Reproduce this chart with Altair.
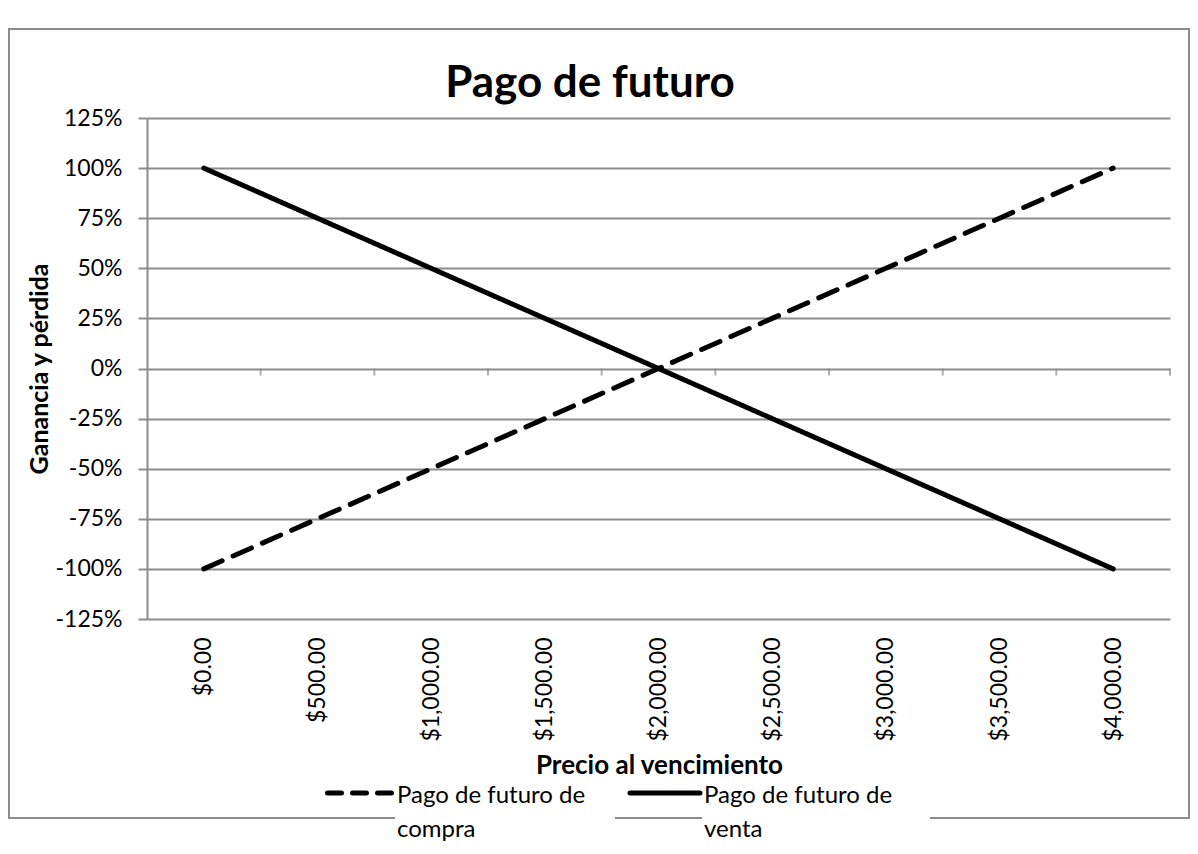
import altair as alt
import pandas as pd

# ---- data ----
precios = [0, 500, 1000, 1500, 2000, 2500, 3000, 3500, 4000]
pago_compra = [-100, -75, -50, -25, 0, 25, 50, 75, 100]
pago_venta = [100, 75, 50, 25, 0, -25, -50, -75, -100]
series = ["Pago de futuro de compra", "Pago de futuro de venta"]
y_ticks = [-125, -100, -75, -50, -25, 0, 25, 50, 75, 100, 125]
titulo = "Pago de futuro"

FONT = "Lato"
GRID = "#8c8c8c"

rows = []
for p, c, v in zip(precios, pago_compra, pago_venta):
    rows.append({"precio": p, "valor": c, "serie": series[0]})
    rows.append({"precio": p, "valor": v, "serie": series[1]})
df = pd.DataFrame(rows)

step = precios[1] - precios[0]
x_scale = alt.Scale(domain=[precios[0] - step / 2, precios[-1] + step / 2], nice=False, zero=False)
y_scale = alt.Scale(domain=[y_ticks[0], y_ticks[-1]], nice=False, zero=False)

x_axis = alt.Axis(
    values=precios,
    labelExpr="'$' + format(datum.value, ',.2f')",
    labelAngle=-90,
    labelFont=FONT,
    labelFontSize=23,
    labelFontWeight="normal",
    labelColor="black",
    labelPadding=18,
    labelOverlap=False,
    labelFlush=False,
    ticks=False,
    domain=False,
    grid=False,
    title="Precio al vencimiento",
    titleFont=FONT,
    titleFontSize=26,
    titleFontWeight="bold",
    titleColor="black",
    titleX=512,
    titleY=154,
    titleAlign="center",
    titleBaseline="alphabetic",
)
y_axis = alt.Axis(
    values=y_ticks,
    labelExpr="datum.value + '%'",
    labelFont=FONT,
    labelFontSize=23,
    labelFontWeight="normal",
    labelColor="black",
    labelPadding=16,
    tickSize=9,
    tickColor=GRID,
    tickWidth=2,
    domainColor=GRID,
    domainWidth=2,
    grid=True,
    gridColor=GRID,
    gridWidth=2,
    title="Ganancia y pérdida",
    titleFont=FONT,
    titleFontSize=25,
    titleFontWeight="bold",
    titleColor="black",
    titleX=-108,
    titleY=250.5,
    titleAlign="center",
    titleBaseline="middle",
)

lines = alt.Chart(df).mark_line(
    color="black", strokeWidth=5, strokeCap="round", strokeJoin="round"
).encode(
    x=alt.X("precio:Q", scale=x_scale, axis=x_axis),
    y=alt.Y("valor:Q", scale=y_scale, axis=y_axis),
    strokeDash=alt.StrokeDash(
        "serie:N",
        scale=alt.Scale(domain=series, range=[[20, 12], [1, 0]]),
        legend=None,
    ),
)

# category-boundary tick marks on the zero line (horizontal axis crosses at 0)
bounds = [p + step / 2 for p in precios]
ticks_df = pd.DataFrame({"precio": bounds, "valor": [0] * len(bounds)})
ticks = alt.Chart(ticks_df).mark_tick(
    orient="vertical", color=GRID, thickness=2, size=7, yOffset=3.5
).encode(
    x=alt.X("precio:Q", scale=x_scale, axis=x_axis),
    y=alt.Y("valor:Q", scale=y_scale, axis=y_axis),
)

one = alt.Data(values=[{}])
border = alt.Chart(one).mark_rect(
    fill="transparent", stroke=GRID, strokeWidth=2
).encode(
    x=alt.value(-138), x2=alt.value(1042), y=alt.value(-89), y2=alt.value(700)
)

title_df = pd.DataFrame({"titulo": [titulo]})
title_mark = alt.Chart(title_df).mark_text(
    align="center", baseline="alphabetic", font=FONT, fontSize=44,
    fontWeight="bold", color="black"
).encode(x=alt.value(443), y=alt.value(-21), text="titulo:N")

# manual legend at the bottom
legend_df = pd.DataFrame({
    "serie": series,
    "texto": ["\n".join(s.rsplit(" ", 1)) for s in series],
})
boxes, symbols, texts = [], [], []
entries = [
    # (serie, symbol x0, x1, dash, text x, box x0, box x1)
    (series[0], 180.5, 244.5, [14, 11], 250, 248, 468),
    (series[1], 483, 553, [1, 0], 557, 555, 783),
]
for serie, sx0, sx1, dash, tx, bx0, bx1 in entries:
    base = alt.Chart(legend_df).transform_filter(alt.datum.serie == serie)
    boxes.append(
        base.mark_rect(fill="white").encode(
            x=alt.value(bx0), x2=alt.value(bx1), y=alt.value(690), y2=alt.value(728)
        )
    )
    symbols.append(
        base.mark_rule(color="black", strokeWidth=5, strokeCap="round", strokeDash=dash).encode(
            x=alt.value(sx0), x2=alt.value(sx1), y=alt.value(675)
        )
    )
    texts.append(
        base.mark_text(
            align="left", baseline="alphabetic", font=FONT, fontSize=24,
            color="black", lineBreak="\n", lineHeight=34
        ).encode(x=alt.value(tx), y=alt.value(685), text="texto:N")
    )

chart = alt.layer(
    lines, ticks, border, *boxes, *symbols, *texts, title_mark
).properties(
    width=1023,
    height=501,
    autosize=alt.AutoSizeParams(type="none"),
    padding={"left": 139, "top": 110, "right": 20, "bottom": 227},
    background="white",
).configure_view(stroke=None)

chart.save("out.html", embed_options={"renderer": "svg", "actions": False})
